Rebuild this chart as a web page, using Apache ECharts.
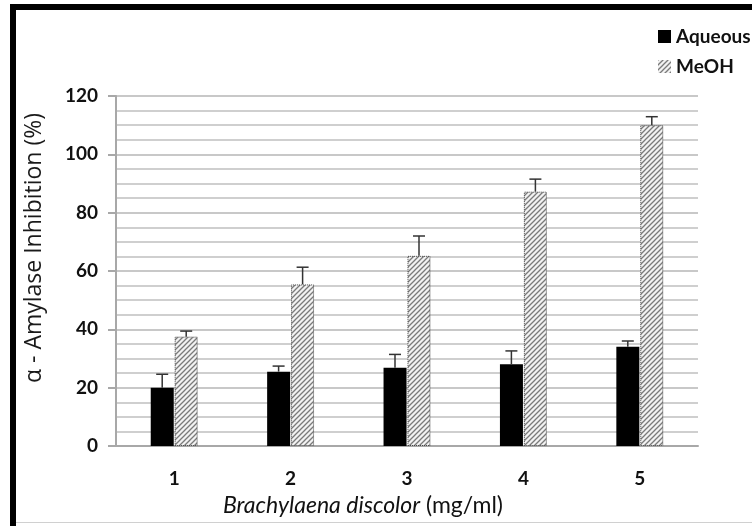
<!DOCTYPE html>
<html>
<head>
<meta charset="utf-8">
<script src="https://cdn.jsdelivr.net/npm/echarts@6/dist/echarts.min.js"></script>
<style>
  html, body { margin: 0; padding: 0; background: #fff; }
  #main { width: 752px; height: 526px; }
</style>
</head>
<body>
<div id="main"></div>
<script>
// data
var categories = ['1', '2', '3', '4', '5'];
var aqueous = [20.0, 25.5, 26.8, 28.0, 34.0];
var aqueousErr = [4.6, 1.9, 4.6, 4.6, 2.0];
var meoh = [37.5, 55.4, 65.2, 87.2, 110.0];
var meohErr = [1.9, 5.9, 6.8, 4.3, 2.9];

// hatch pattern for MeOH bars
var hatch = document.createElement('canvas');
hatch.width = 5;
hatch.height = 5;
var hc = hatch.getContext('2d');
hc.fillStyle = '#f2f2f2';
hc.fillRect(0, 0, 5, 5);
hc.strokeStyle = '#7a7a7a';
hc.lineWidth = 1.3;
hc.beginPath();
hc.moveTo(0, 5); hc.lineTo(5, 0);
hc.moveTo(-1, 1); hc.lineTo(1, -1);
hc.moveTo(4, 6); hc.lineTo(6, 4);
hc.stroke();

var myChart = echarts.init(document.getElementById('main'));

// error bar drawn above a bar, shifted to its half of the category
function errBar(values, errs, shift) {
    return function (params, api) {
        var i = api.value(0);
        var top = api.coord([i, values[i] + errs[i]]);
        var base = api.coord([i, values[i]]);
        var x = base[0] + shift;
        return {
            type: 'group',
            children: [
                { type: 'line', shape: { x1: x, y1: base[1], x2: x, y2: top[1] },
                  style: { stroke: '#333', lineWidth: 1.5 } },
                { type: 'line', shape: { x1: x - 6, y1: top[1], x2: x + 6, y2: top[1] },
                  style: { stroke: '#333', lineWidth: 1.5 } }
            ]
        };
    };
}

var option = {
    animation: false,
    textStyle: { fontFamily: 'Lato' },
    grid: { left: 116, right: 54, top: 96, bottom: 80 },
    legend: {
        orient: 'vertical',
        left: 658,
        top: 27,
        padding: 0,
        icon: 'rect',
        itemWidth: 13,
        itemHeight: 13,
        itemGap: 11,
        itemTextGap: 4,
        itemStyle: { borderWidth: 0 },
        textStyle: { fontSize: 19, fontWeight: 'bold', color: '#111', fontFamily: 'Lato' },
        data: ['Aqueous', 'MeOH']
    },
    xAxis: {
        type: 'category',
        data: categories,
        axisLine: { lineStyle: { color: '#a8a8a8', width: 2 } },
        axisTick: { show: false },
        axisLabel: { fontSize: 19, fontWeight: 'bold', color: '#111', margin: 23 },
        name: '{i|Brachylaena discolor}{n| (mg/ml)}',
        nameLocation: 'middle',
        nameGap: 48,
        nameTextStyle: {
            padding: [0, 88, 0, 0],
            rich: {
                i: { fontSize: 23, fontStyle: 'italic', color: '#111', fontFamily: 'Lato' },
                n: { fontSize: 23, color: '#111', fontFamily: 'Lato' }
            }
        }
    },
    yAxis: {
        type: 'value',
        min: 0,
        max: 120,
        interval: 20,
        axisLine: { show: true, lineStyle: { color: '#a8a8a8', width: 2 } },
        axisTick: { show: true, length: 8, lineStyle: { color: '#a8a8a8', width: 2 } },
        minorTick: { show: false, splitNumber: 4 },
        axisLabel: { fontSize: 19, fontWeight: 'bold', color: '#111', margin: 18 },
        splitLine: { lineStyle: { color: '#c8c8c8', width: 2 } },
        minorSplitLine: { show: true, lineStyle: { color: '#cfcfcf', width: 2 } },
        name: 'α - Amylase Inhibition (%)',
        nameLocation: 'middle',
        nameGap: 70,
        nameTextStyle: { fontSize: 23, color: '#1a1a1a', fontFamily: 'Open Sans', padding: [0, 0, 0, 46] }
    },
    graphic: [
        { type: 'rect', shape: { x: 10, y: 4, width: 6, height: 530 }, style: { fill: '#000' } },
        { type: 'rect', shape: { x: 10, y: 4, width: 760, height: 6 }, style: { fill: '#000' } },
        { type: 'rect', shape: { x: 16, y: 522, width: 740, height: 1 }, style: { fill: '#d0d0d0' } }
    ],
    series: [
        {
            name: 'Aqueous',
            type: 'bar',
            data: aqueous,
            barWidth: 23,
            barGap: '4%',
            itemStyle: { color: '#000' }
        },
        {
            name: 'MeOH',
            type: 'bar',
            data: meoh,
            barWidth: 23,
            barGap: '4%',
            itemStyle: {
                color: { image: hatch, repeat: 'repeat' },
                borderColor: '#444',
                borderWidth: 1,
                borderType: 'dotted'
            }
        },
        {
            type: 'custom',
            data: categories.map(function (c, i) { return [i]; }),
            renderItem: errBar(aqueous, aqueousErr, -12),
            z: 5
        },
        {
            type: 'custom',
            data: categories.map(function (c, i) { return [i]; }),
            renderItem: errBar(meoh, meohErr, 12),
            z: 5
        }
    ]
};

myChart.setOption(option);
</script>
</body>
</html>
